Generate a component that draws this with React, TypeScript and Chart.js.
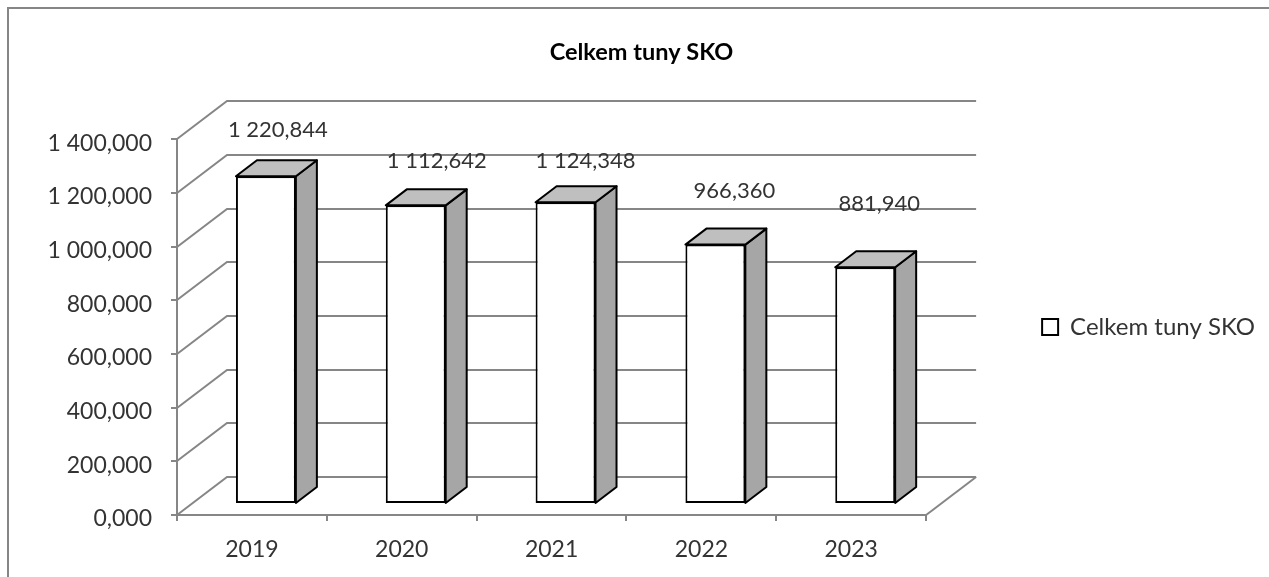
import React, { useEffect, useRef } from "react";
import { Chart, registerables } from "chart.js";

Chart.register(...registerables);

const categories = ["2019", "2020", "2021", "2022", "2023"];
const seriesName = "Celkem tuny SKO";
const seriesValues = [1220.844, 1112.642, 1124.348, 966.36, 881.94];
const valueLabels = ["1 220,844", "1 112,642", "1 124,348", "966,360", "881,940"];
const yTickLabels = ["0,000", "200,000", "400,000", "600,000", "800,000", "1 000,000", "1 200,000", "1 400,000"];

// Label placement relative to each bar's front-top centre (the source tool placed them by hand).
const labelNudgeX = [12, 21, 20, 19, 14];
const labelNudgeY = [-46, -44, -41, -54, -63];

const FONT = "Lato, Carlito, sans-serif";
const GRID = "#868686";
const TEXT = "#333333";
const WALL_DX = 50;
const WALL_DY = -38;
const BAR_SHIFT_X = 14;
const BAR_SHIFT_Y = -11;
const BAR_DX = 21;
const BAR_DY = -16;

const threeD = {
  id: "threeD",
  beforeDraw(chart: any) {
    const { ctx, width, height } = chart;
    ctx.save();
    ctx.fillStyle = "#ffffff";
    ctx.fillRect(0, 0, width, height);
    ctx.strokeStyle = GRID;
    ctx.lineWidth = 2;
    ctx.beginPath();
    ctx.moveTo(8, height);
    ctx.lineTo(8, 8);
    ctx.lineTo(width, 8);
    ctx.stroke();
    ctx.restore();
  },
  beforeDatasetsDraw(chart: any) {
    const { ctx, scales, chartArea } = chart;
    ctx.save();
    ctx.strokeStyle = GRID;
    ctx.lineWidth = 2;
    scales.y.ticks.forEach((t: any) => {
      const y = Math.round(scales.y.getPixelForValue(t.value));
      ctx.beginPath();
      ctx.moveTo(chartArea.left, y);
      ctx.lineTo(chartArea.left + WALL_DX, y + WALL_DY);
      ctx.lineTo(chartArea.right + WALL_DX, y + WALL_DY);
      ctx.stroke();
    });
    const y0 = scales.y.getPixelForValue(0);
    ctx.beginPath();
    ctx.moveTo(chartArea.right, y0);
    ctx.lineTo(chartArea.right + WALL_DX, y0 + WALL_DY);
    ctx.stroke();
    ctx.fillStyle = TEXT;
    ctx.font = `23px ${FONT}`;
    ctx.textAlign = "right";
    ctx.textBaseline = "middle";
    scales.y.ticks.forEach((t: any, i: number) => {
      ctx.fillText(yTickLabels[i], chartArea.left - 25, scales.y.getPixelForValue(t.value) + 4);
    });
    ctx.restore();

    ctx.save();
    ctx.translate(BAR_SHIFT_X, BAR_SHIFT_Y);
    ctx.strokeStyle = "#000000";
    ctx.lineWidth = 2;
    ctx.lineJoin = "round";
    chart.getDatasetMeta(0).data.forEach((bar: any) => {
      const l = bar.x - bar.width / 2;
      const r = bar.x + bar.width / 2;
      const t = bar.y;
      const b = bar.base;
      ctx.fillStyle = "#A6A6A6";
      ctx.beginPath();
      ctx.moveTo(r, t);
      ctx.lineTo(r + BAR_DX, t + BAR_DY);
      ctx.lineTo(r + BAR_DX, b + BAR_DY);
      ctx.lineTo(r, b);
      ctx.closePath();
      ctx.fill();
      ctx.stroke();
      ctx.fillStyle = "#BFBFBF";
      ctx.beginPath();
      ctx.moveTo(l, t);
      ctx.lineTo(l + BAR_DX, t + BAR_DY);
      ctx.lineTo(r + BAR_DX, t + BAR_DY);
      ctx.lineTo(r, t);
      ctx.closePath();
      ctx.fill();
      ctx.stroke();
    });
  },
  afterDatasetsDraw(chart: any) {
    const { ctx } = chart;
    ctx.restore();
    ctx.save();
    ctx.fillStyle = TEXT;
    ctx.font = `22px ${FONT}`;
    ctx.textAlign = "center";
    ctx.textBaseline = "middle";
    chart.getDatasetMeta(0).data.forEach((bar: any, i: number) => {
      ctx.fillText(
        valueLabels[i],
        bar.x + BAR_SHIFT_X + labelNudgeX[i],
        bar.y + BAR_SHIFT_Y + labelNudgeY[i]
      );
    });
    ctx.restore();
  },
};

export default function App() {
  const ref = useRef<HTMLCanvasElement | null>(null);
  useEffect(() => {
    const chart = new Chart(ref.current as HTMLCanvasElement, {
      type: "bar",
      data: {
        labels: categories,
        datasets: [
          {
            label: seriesName,
            data: seriesValues,
            backgroundColor: "#ffffff",
            borderColor: "#000000",
            borderWidth: 2,
            borderSkipped: false,
            barPercentage: 0.4,
            categoryPercentage: 1,
            clip: false,
          } as any,
        ],
      },
      options: {
        responsive: false,
        animation: false,
        devicePixelRatio: 1,
        layout: { padding: { left: 18, right: 4, top: 0, bottom: 0 } },
        plugins: {
          tooltip: { enabled: false },
          title: {
            display: true,
            text: seriesName,
            color: "#000000",
            font: { family: FONT, size: 23.5, weight: "bold", lineHeight: 1.2 },
            padding: { top: 38, bottom: 73 },
          },
          legend: {
            display: true,
            position: "right",
            fullSize: false,
            maxWidth: 240,
            labels: {
              color: TEXT,
              font: { family: FONT, size: 24 },
              boxWidth: 16,
              boxHeight: 16,
              padding: 10,
            },
          },
        },
        scales: {
          x: {
            offset: true,
            grid: { drawOnChartArea: false, drawTicks: true, tickLength: 6, color: GRID, lineWidth: 2, offset: true },
            border: { display: true, color: GRID, width: 2 },
            ticks: { color: TEXT, font: { family: FONT, size: 23 }, padding: 15, maxRotation: 0 },
            afterFit(scale: any) {
              scale.height = 62;
            },
          },
          y: {
            min: 0,
            max: 1400,
            grid: { drawOnChartArea: false, drawTicks: true, tickLength: 6, color: GRID, lineWidth: 2 },
            border: { display: true, color: GRID, width: 2 },
            ticks: {
              stepSize: 200,
              display: false,
            },
            afterFit(scale: any) {
              scale.width = 159;
            },
          },
          gap: {
            type: "linear",
            position: "right",
            display: true,
            grid: { display: false, drawTicks: false },
            border: { display: false },
            ticks: { display: false },
            afterFit(scale: any) {
              scale.width = 106;
            },
          },
        },
      } as any,
      plugins: [threeD],
    });
    return () => chart.destroy();
  }, []);
  return (
    <div style={{ position: "absolute", left: 0, top: 0, width: 1269, height: 577, overflow: "hidden", background: "#fff" }}>
      <canvas ref={ref} width={1269} height={577} style={{ display: "block" }} />
    </div>
  );
}
